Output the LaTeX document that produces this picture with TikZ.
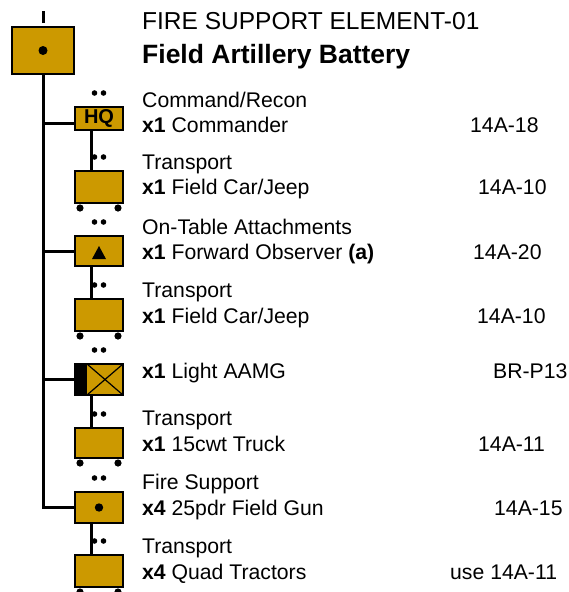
\documentclass[tikz,border=0pt]{standalone}
\usepackage{fontspec}
\setmainfont{Liberation Sans}
\usetikzlibrary{calc,positioning}
\definecolor{gold}{RGB}{204,153,0}

\begin{document}
\begin{tikzpicture}[x=1pt,y=-1pt,
    unit/.style={draw=black,line width=2pt,fill=gold,minimum width=48pt,minimum height=31pt,
      inner sep=0pt,anchor=north west,font=\fontsize{20}{22}\selectfont\bfseries},
    aamgbox/.style={unit,path picture={
        \fill[black] (path picture bounding box.south west) rectangle ([xshift=12pt]path picture bounding box.north west);
        \draw[black,line width=1.2pt] ([xshift=12pt]path picture bounding box.north west) -- (path picture bounding box.south east)
          ([xshift=12pt]path picture bounding box.south west) -- (path picture bounding box.north east);}},
    link/.style={line width=3pt},
    txt/.style={anchor=base west,inner sep=0pt,font=\fontsize{21.2}{24}\selectfont},
    ttl/.style={anchor=base west,inner sep=0pt,font=\fontsize{24.5}{28}\selectfont},
    ttlb/.style={ttl,font=\fontsize{26.5}{30}\selectfont\bfseries}]
  \useasboundingbox (0,0) rectangle (569,592);
  %Units
  \node[unit,minimum width=62pt,minimum height=47pt] (top) at (11,26) {};
  \node[unit,minimum height=23pt] (hq) at (74,106) {HQ};
  \node[unit,minimum height=32pt] (car1) at (74,170) {};
  \node[unit,minimum height=30pt] (obs) at (74,235) {};
  \node[unit,minimum height=32pt] (car2) at (74,298) {};
  \node[aamgbox] (aamg) at (74,363) {};
  \node[unit,minimum height=30pt] (truck) at (74,427) {};
  \node[unit] (gun) at (74,491) {};
  \node[unit,minimum height=32pt] (tract) at (74,554) {};
  %Symbols
  \draw[link] ([shift={(0,-3)}]top.north) -- ([shift={(0,-15)}]top.north);
  \fill (top.center) circle (4.5);
  \fill (gun.center) circle (4.2);
  \fill ($(obs.center)+(-7,8)$) -- ($(obs.center)+(7,8)$) -- ($(obs.center)+(0,-5)$) -- cycle;
  \foreach \u in {hq,car1,obs,car2,aamg,truck,gun,tract}{
    \fill ([shift={(-4.5,-13)}]\u.north) circle (2.8);
    \fill ([shift={(4.5,-13)}]\u.north) circle (2.8);
  }
  \foreach \u in {car1,car2,truck,tract}{
    \fill ([shift={(6,4)}]\u.south west) circle (3.6);
    \fill ([shift={(-6,4)}]\u.south east) circle (3.6);
  }
  %Links
  \coordinate (hqjoin) at ([yshift=-5pt]hq.west);
  \draw[link] (top.south) |- (gun.west);
  \draw[link] (hqjoin) -- (top.south |- hqjoin);
  \draw[link] (obs.west) -- (top.south |- obs.west);
  \draw[link] (aamg.west) -- (top.south |- aamg.west);
  \draw[link] ([xshift=-8pt]hq.south) -- ([xshift=-8pt]car1.north);
  \draw[link] ([xshift=-8pt]obs.south) -- ([xshift=-8pt]car2.north);
  \draw[link] ([xshift=-8pt]aamg.south) -- ([xshift=-8pt]truck.north);
  \draw[link] ([xshift=-8pt]gun.south) -- ([xshift=-8pt]tract.north);
  %Texts
  \node[ttl] (title) at (142,29) {FIRE SUPPORT ELEMENT-01};
  \node[ttlb] (subtitle) at (142,63) {Field Artillery Battery};
  \node[txt] (hqcap) at (142,107) {Command/Recon};
  \node[txt] (hqtxt) at (142,132) {\textbf{x1} Commander};
  \node[txt] (hqref) at (470,132) {14A-18};
  \node[txt] (car1cap) at (142,169) {Transport};
  \node[txt] (car1txt) at (142,194) {\textbf{x1} Field Car/Jeep};
  \node[txt] (car1ref) at (478,194) {14A-10};
  \node[txt] (obscap) at (142,234) {On-Table Attachments};
  \node[txt] (obstxt) at (142,259) {\textbf{x1} Forward Observer \textbf{(a)}};
  \node[txt] (obsref) at (473,259) {14A-20};
  \node[txt] (car2cap) at (142,297) {Transport};
  \node[txt] (car2txt) at (142,323) {\textbf{x1} Field Car/Jeep};
  \node[txt] (car2ref) at (477,323) {14A-10};
  \node[txt] (aamgtxt) at (142,378) {\textbf{x1} Light AAMG};
  \node[txt] (aamgref) at (493,378) {BR-P13};
  \node[txt] (truckcap) at (142,425) {Transport};
  \node[txt] (trucktxt) at (142,451) {\textbf{x1} 15cwt Truck};
  \node[txt] (truckref) at (478,451) {14A-11};
  \node[txt] (guncap) at (142,489) {Fire Support};
  \node[txt] (guntxt) at (142,515) {\textbf{x4} 25pdr Field Gun};
  \node[txt] (gunref) at (494,515) {14A-15};
  \node[txt] (tractcap) at (142,553) {Transport};
  \node[txt] (tracttxt) at (142,579) {\textbf{x4} Quad Tractors};
  \node[txt] (tractref) at (450,579) {use 14A-11};
\end{tikzpicture}
\end{document}
